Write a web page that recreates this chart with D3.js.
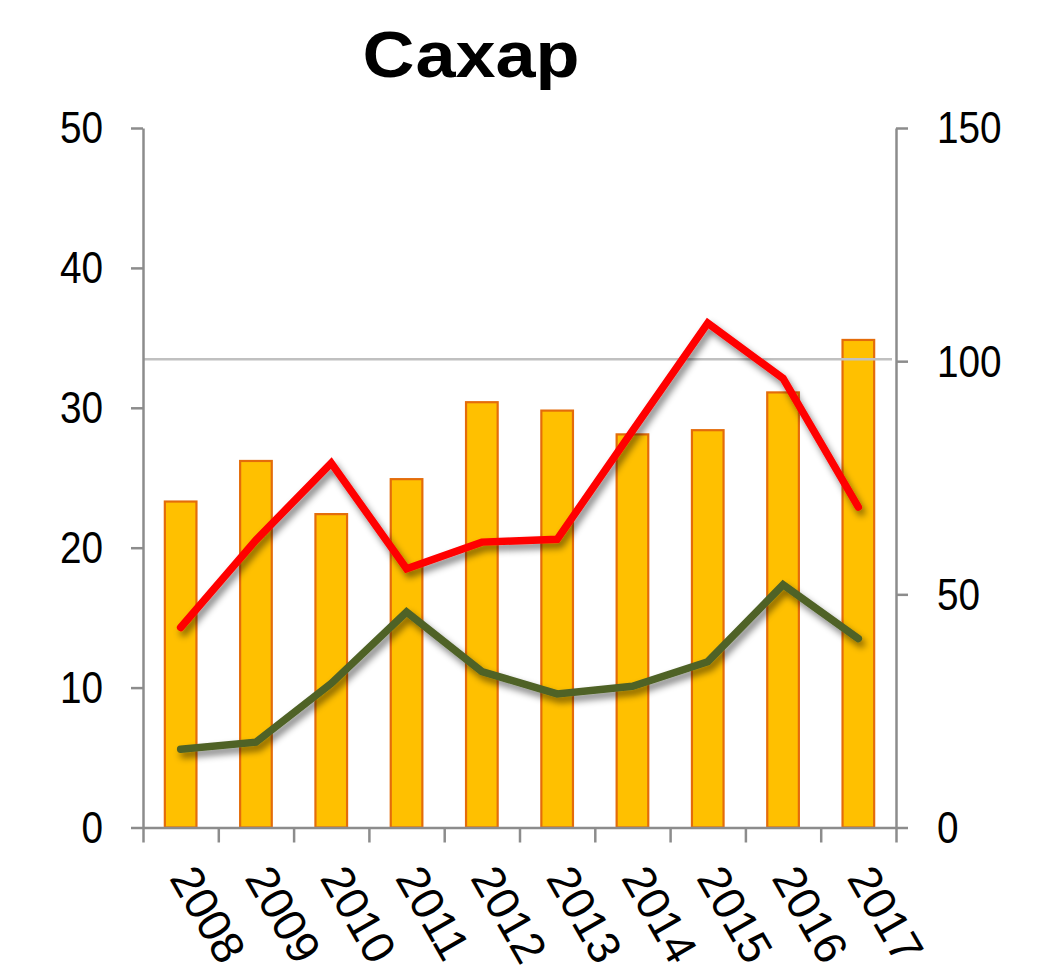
<!DOCTYPE html>
<html>
<head>
<meta charset="utf-8">
<script src="https://cdn.jsdelivr.net/npm/d3@7"></script>
<style>
  body { margin: 0; background: #fff; }
  svg { display: block; font-family: "Liberation Sans", Arial, sans-serif; }
</style>
</head>
<body>
<svg id="chart"></svg>
<script>
const years = ["2008", "2009", "2010", "2011", "2012", "2013", "2014", "2015", "2016", "2017"]
const bars = [23.3, 26.2, 22.4, 24.9, 30.4, 29.8, 28.1, 28.4, 31.1, 34.85]
const red = [14.3, 20.55, 26.05, 18.5, 20.4, 20.6, 28.35, 36.05, 32.1, 22.9]
const green = [5.6, 6.1, 10.3, 15.4, 11.15, 9.55, 10.1, 11.85, 17.35, 13.5]
const leftTicks = [0, 10, 20, 30, 40, 50]
const rightTicks = [0, 50, 100, 150]
const refLine = 100

const W = 1056, H = 971
const mLeft = 143, mRight = 896, mTop = 128, mBottom = 827.5
const axisColor = "#8c8c8c"

const svg = d3.select("#chart")
    .attr("width", W)
    .attr("height", H)

// shadow under the lines
const filter = svg.append("defs").append("filter")
    .attr("id", "shadow")
    .attr("x", "-20%").attr("y", "-20%")
    .attr("width", "140%").attr("height", "140%")
filter.append("feGaussianBlur").attr("in", "SourceAlpha").attr("stdDeviation", 3.5).attr("result", "b")
filter.append("feOffset").attr("in", "b").attr("dx", 3).attr("dy", 5).attr("result", "o")
filter.append("feComponentTransfer").attr("in", "o").attr("result", "s")
    .append("feFuncA").attr("type", "linear").attr("slope", 0.5)
const merge = filter.append("feMerge")
merge.append("feMergeNode").attr("in", "s")
merge.append("feMergeNode").attr("in", "SourceGraphic")

const x = d3.scaleBand()
    .domain(years)
    .range([mLeft, mRight])

const xEdges = d3.scaleLinear()
    .domain([0, years.length])
    .range([mLeft, mRight])

const yL = d3.scaleLinear()
    .domain([0, 50])
    .range([mBottom, mTop])

const yR = d3.scaleLinear()
    .domain([0, 150])
    .range([mBottom, mTop])

// title
svg.append("text")
    .attr("x", 471)
    .attr("y", 77)
    .attr("text-anchor", "middle")
    .attr("font-size", 64)
    .attr("font-weight", "bold")
    .attr("textLength", 217)
    .attr("lengthAdjust", "spacingAndGlyphs")
    .text("Сахар")

// bars
const bw = x.bandwidth() * 0.42
svg.append("g")
    .selectAll("rect")
    .data(bars)
    .join("rect")
    .attr("x", (d, i) => x(years[i]) + x.bandwidth() / 2 - bw / 2)
    .attr("y", d => yL(d))
    .attr("width", bw)
    .attr("height", d => yL(0) - yL(d))
    .attr("fill", "#ffc000")
    .attr("stroke", "#e46c0a")
    .attr("stroke-width", 2.2)

// reference line at 100 on right axis
svg.append("line")
    .attr("x1", mLeft)
    .attr("x2", mRight - 4)
    .attr("y1", yR(refLine) - 2)
    .attr("y2", yR(refLine) - 2)
    .attr("stroke", "#c0c0c0")
    .attr("stroke-width", 2.5)

// lines
const line = d3.line()
    .x((d, i) => x(years[i]) + x.bandwidth() / 2)
    .y(d => yL(d))

const series = [
    { values: red, color: "#ff0000" },
    { values: green, color: "#4f6228" }
]

svg.append("g")
    .selectAll("path")
    .data(series)
    .join("path")
    .attr("d", d => line(d.values))
    .attr("fill", "none")
    .attr("stroke", d => d.color)
    .attr("stroke-width", 7.5)
    .attr("stroke-linecap", "round")
    .attr("stroke-linejoin", "miter")
    .attr("filter", "url(#shadow)")

// axes
function styleAxis(g) {
    g.selectAll(".domain").attr("stroke", axisColor).attr("stroke-width", 2.5)
    g.selectAll(".tick line").attr("stroke", axisColor).attr("stroke-width", 2.5)
    g.selectAll(".tick text")
        .attr("fill", "#000")
        .attr("font-size", 44)
        .attr("font-family", "Liberation Sans, Arial, sans-serif")
}

const axL = svg.append("g")
    .attr("transform", `translate(${mLeft},0)`)
    .call(d3.axisLeft(yL).tickValues(leftTicks).tickSize(12).tickSizeOuter(0))
    .call(styleAxis)
axL.selectAll(".tick text")
    .attr("x", 0)
    .attr("dy", "0.34em")
    .attr("transform", "translate(-40,0) scale(0.88,1)")

const axR = svg.append("g")
    .attr("transform", `translate(${mRight},0)`)
    .call(d3.axisRight(yR).tickValues(rightTicks).tickSize(12).tickSizeOuter(0))
    .call(styleAxis)
axR.selectAll(".tick text")
    .attr("x", 0)
    .attr("dy", "0.34em")
    .attr("transform", "translate(41,0) scale(0.88,1)")

const axB = svg.append("g")
    .attr("transform", `translate(0,${mBottom})`)
    .call(d3.axisBottom(xEdges).ticks(years.length).tickSize(15).tickSizeOuter(0).tickFormat(""))
    .call(styleAxis)

// rotated year labels
svg.append("g")
    .selectAll("text")
    .data(years)
    .join("text")
    .attr("transform", d => `translate(${x(d) + x.bandwidth() / 2 - 12},878) rotate(60)`)
    .attr("font-size", 46)
    .attr("text-anchor", "start")
    .text(d => d)
</script>
</body>
</html>
